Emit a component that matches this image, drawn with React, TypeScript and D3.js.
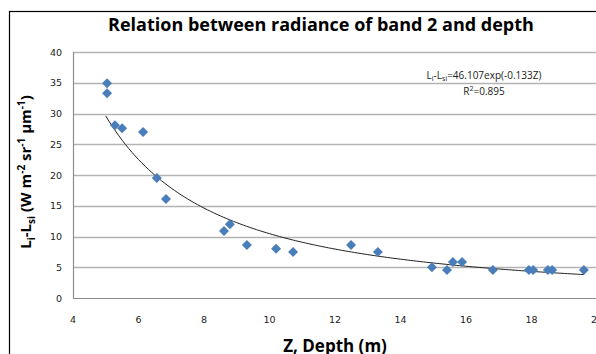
import * as d3 from "d3";
import { useEffect, useRef } from "react";

// depth (m) and radiance difference
const depth = [5.04, 5.04, 5.28, 5.5, 6.14, 6.56, 6.84, 8.61, 8.79, 9.31, 10.2, 10.72, 12.49, 13.31, 14.96, 15.42, 15.6, 15.88, 16.82, 17.92, 18.05, 18.5, 18.63, 19.6];
const radiance = [34.9, 33.3, 28.1, 27.6, 27.0, 19.5, 16.1, 10.9, 12.0, 8.6, 8.0, 7.5, 8.6, 7.5, 5.0, 4.55, 5.85, 5.85, 4.55, 4.55, 4.55, 4.55, 4.55, 4.55];

const xTicks = [4, 6, 8, 10, 12, 14, 16, 18, 20];
const yTicks = [0, 5, 10, 15, 20, 25, 30, 35, 40];

const W = 596;
const H = 354;

const App = () => {
    const svgRef = useRef<SVGSVGElement | null>(null);

    useEffect(() => {
        const svg = d3.select(svgRef.current);
        svg.selectAll("*").remove();

        const left = 73, right = 597, top = 52, bottom = 298;
        const x = d3.scaleLinear().domain([4, 20]).range([left, right]);
        const y = d3.scaleLinear().domain([0, 40]).range([bottom, top]);

        // outer chart border
        svg.append("rect")
            .attr("x", 9.5).attr("y", 11.5)
            .attr("width", 700).attr("height", 500)
            .attr("fill", "white").attr("stroke", "#000").attr("stroke-width", 1.2);

        // title
        svg.append("text")
            .attr("x", 321).attr("y", 31)
            .attr("text-anchor", "middle")
            .attr("font-family", "Open Sans")
            .attr("font-weight", "bold")
            .attr("font-size", 18)
            .attr("fill", "#000")
            .text("Relation between radiance of band 2 and depth");

        // gridlines
        svg.append("g")
            .selectAll("line")
            .data(yTicks.filter(d => d > 0))
            .join("line")
            .attr("x1", left).attr("x2", W)
            .attr("y1", d => Math.round(y(d)) + 0.5).attr("y2", d => Math.round(y(d)) + 0.5)
            .attr("stroke", "#b3b3b3").attr("stroke-width", 1.3);

        // axes lines
        svg.append("line")
            .attr("x1", left + 0.5).attr("x2", left + 0.5)
            .attr("y1", top).attr("y2", bottom + 0.5)
            .attr("stroke", "#8c8c8c").attr("stroke-width", 1.2);
        svg.append("line")
            .attr("x1", left).attr("x2", W)
            .attr("y1", bottom + 0.5).attr("y2", bottom + 0.5)
            .attr("stroke", "#8c8c8c").attr("stroke-width", 1.2);

        const tickFont = "DejaVu Sans";
        svg.append("g")
            .selectAll("text")
            .data(yTicks)
            .join("text")
            .attr("x", 62).attr("y", d => y(d) + 3.5)
            .attr("text-anchor", "end")
            .attr("font-family", tickFont).attr("font-size", 9.5)
            .attr("fill", "#222")
            .text(d => d);
        svg.append("g")
            .selectAll("text")
            .data(xTicks)
            .join("text")
            .attr("x", d => x(d)).attr("y", 323)
            .attr("text-anchor", "middle")
            .attr("font-family", tickFont).attr("font-size", 9.5)
            .attr("fill", "#222")
            .text(d => d);

        // axis titles
        svg.append("text")
            .attr("x", 335).attr("y", 352)
            .attr("text-anchor", "middle")
            .attr("font-family", "Open Sans").attr("font-weight", "bold")
            .attr("font-size", 17)
            .text("Z, Depth (m)");

        const yl = svg.append("text")
            .attr("transform", "translate(31,172) rotate(-90)")
            .attr("text-anchor", "middle")
            .attr("font-family", "Open Sans").attr("font-weight", "bold")
            .attr("font-size", 15);
        yl.append("tspan").text("L");
        yl.append("tspan").attr("font-size", 10).attr("dy", 4).text("i");
        yl.append("tspan").attr("dy", -4).text("-L");
        yl.append("tspan").attr("font-size", 10).attr("dy", 4).text("si");
        yl.append("tspan").attr("dy", -4).text(" (W m");
        yl.append("tspan").attr("font-size", 10).attr("dy", -6).text("-2");
        yl.append("tspan").attr("dy", 6).text(" sr");
        yl.append("tspan").attr("font-size", 10).attr("dy", -6).text("-1");
        yl.append("tspan").attr("dy", 6).text(" \u00b5m");
        yl.append("tspan").attr("font-size", 10).attr("dy", -6).text("-1");
        yl.append("tspan").attr("dy", 6).text(")");

        // power-law trend fitted on log-log values
        const lx = depth.map(Math.log), ly = radiance.map(Math.log);
        const mx = d3.mean(lx)!, my = d3.mean(ly)!;
        const b = d3.sum(lx, (v, i) => (v - mx) * (ly[i] - my)) / d3.sum(lx, v => (v - mx) ** 2);
        const a = Math.exp(my - b * mx);
        const zs = d3.range(5, 19.61, 0.1);
        const trend = d3.line<number>()
            .x(z => x(z))
            .y(z => y(a * Math.pow(z, b)));
        svg.append("path")
            .attr("d", trend(zs))
            .attr("fill", "none").attr("stroke", "#222").attr("stroke-width", 1);

        // markers
        svg.append("g")
            .selectAll("path")
            .data(depth.map((d, i) => [d, radiance[i]]))
            .join("path")
            .attr("transform", d => `translate(${x(d[0])},${y(d[1])})`)
            .attr("d", "M0,-5L5,0L0,5L-5,0Z")
            .attr("fill", "#4a7ebb");

        // equation label
        const eq = svg.append("text")
            .attr("x", 484).attr("y", 79)
            .attr("text-anchor", "middle")
            .attr("font-family", "Open Sans").attr("font-size", 10)
            .attr("fill", "#222");
        eq.append("tspan").text("L");
        eq.append("tspan").attr("font-size", 7).attr("dy", 2).text("i");
        eq.append("tspan").attr("dy", -2).text("-L");
        eq.append("tspan").attr("font-size", 7).attr("dy", 2).text("si");
        eq.append("tspan").attr("dy", -2).text("=46.107exp(-0.133Z)");
        const r2 = svg.append("text")
            .attr("x", 484).attr("y", 95)
            .attr("text-anchor", "middle")
            .attr("font-family", "Open Sans").attr("font-size", 10)
            .attr("fill", "#222");
        r2.append("tspan").text("R");
        r2.append("tspan").attr("font-size", 7).attr("dy", -4).text("2");
        r2.append("tspan").attr("dy", 4).text("=0.895");
    }, []);

    return (
        <svg ref={svgRef} width={W} height={H}
            style={{ position: "absolute", left: 0, top: 0, background: "white" }}></svg>
    );
};

export default App;
